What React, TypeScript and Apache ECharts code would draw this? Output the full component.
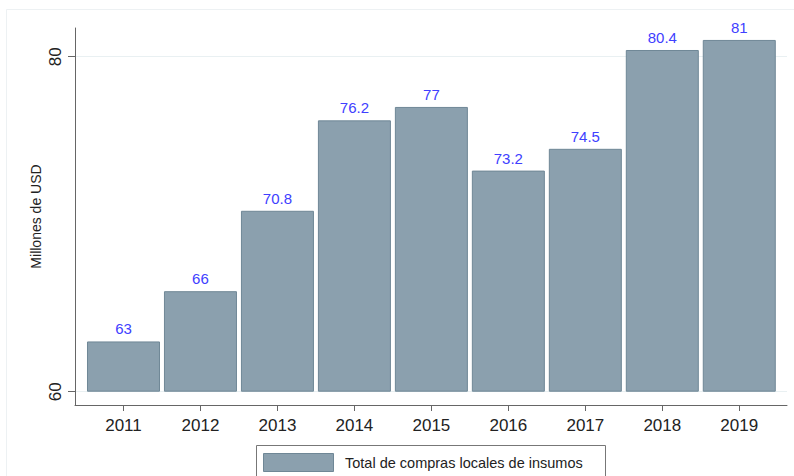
import React, { useEffect, useRef } from 'react';
import * as echarts from 'echarts';

const years = [2011, 2012, 2013, 2014, 2015, 2016, 2017, 2018, 2019];
const values = [63, 66, 70.8, 76.2, 77, 73.2, 74.5, 80.4, 81];
const yTicks = [60, 80];
const barBase = 60;
const seriesName = 'Total de compras locales de insumos';
const yAxisTitle = 'Millones de USD';

const FONT = '"Liberation Sans", Arial, sans-serif';
const BAR_FILL = '#8ba0ae';
const BAR_BORDER = '#6f8796';
const AXIS_COLOR = '#666666';

export default function App() {
  const ref = useRef<HTMLDivElement>(null);
  useEffect(() => {
    const chart = echarts.init(ref.current as HTMLDivElement, null, { renderer: 'svg' });
    chart.setOption({
      animation: false,
      backgroundColor: '#ffffff',
      textStyle: { fontFamily: FONT },
      grid: { left: 75, right: 7, top: 28, bottom: 71, containLabel: false },
      xAxis: {
        type: 'value',
        min: 2010.37,
        max: 2019.62,
        axisLine: { show: true, lineStyle: { color: AXIS_COLOR, width: 1 } },
        axisTick: { show: true, customValues: years, length: 6, lineStyle: { color: AXIS_COLOR } },
        axisLabel: {
          customValues: years,
          fontSize: 17,
          color: '#222222',
          margin: 12,
          fontFamily: FONT,
          formatter: (v: number) => String(v),
        },
        splitLine: { show: false },
      },
      yAxis: {
        type: 'value',
        min: 59.206,
        max: 81.713,
        startValue: barBase,
        axisLine: { show: true, lineStyle: { color: AXIS_COLOR, width: 1 } },
        axisTick: { show: true, customValues: yTicks, length: 7, lineStyle: { color: AXIS_COLOR } },
        axisLabel: {
          customValues: yTicks,
          rotate: 90,
          fontSize: 17,
          color: '#222222',
          margin: 11,
          fontFamily: FONT,
        },
        splitLine: { show: true, lineStyle: { color: '#e9f0f2', width: 1 } },
        name: yAxisTitle,
        nameLocation: 'middle',
        nameGap: 32,
        nameRotate: 90,
        nameMoveOverlap: false,
        nameTextStyle: { fontSize: 14, color: '#222222', fontFamily: FONT },
      },
      series: [
        {
          type: 'bar',
          name: seriesName,
          data: years.map((y, i) => [y, values[i]]),
          barWidth: 73,
          itemStyle: { color: BAR_FILL, borderColor: BAR_BORDER, borderWidth: 1 },
          label: {
            show: true,
            position: 'top',
            distance: 5,
            color: '#4040ff',
            fontSize: 15,
            fontFamily: FONT,
            formatter: (p: any) => String(values[p.dataIndex]),
          },
        },
      ],
      graphic: [
        {
          type: 'rect',
          z: -10,
          shape: { x: 6.5, y: 9.5, width: 900, height: 600 },
          style: { fill: 'none', stroke: '#edf1f3', lineWidth: 1 },
        },
        {
          type: 'rect',
          shape: { x: 256.5, y: 445.5, width: 349, height: 40 },
          style: { fill: '#ffffff', stroke: '#777777', lineWidth: 1 },
        },
        {
          type: 'rect',
          shape: { x: 263.5, y: 453.5, width: 70, height: 18 },
          style: { fill: BAR_FILL, stroke: BAR_BORDER, lineWidth: 1 },
        },
        {
          type: 'text',
          x: 345,
          y: 463,
          style: {
            text: seriesName,
            font: '14.5px "Liberation Sans", Arial, sans-serif',
            fill: '#222222',
            verticalAlign: 'middle',
          },
        },
      ],
    });
    return () => chart.dispose();
  }, []);
  return (
    <div
      ref={ref}
      style={{ position: 'fixed', left: 0, top: 0, width: 794, height: 476 }}
    />
  );
}
